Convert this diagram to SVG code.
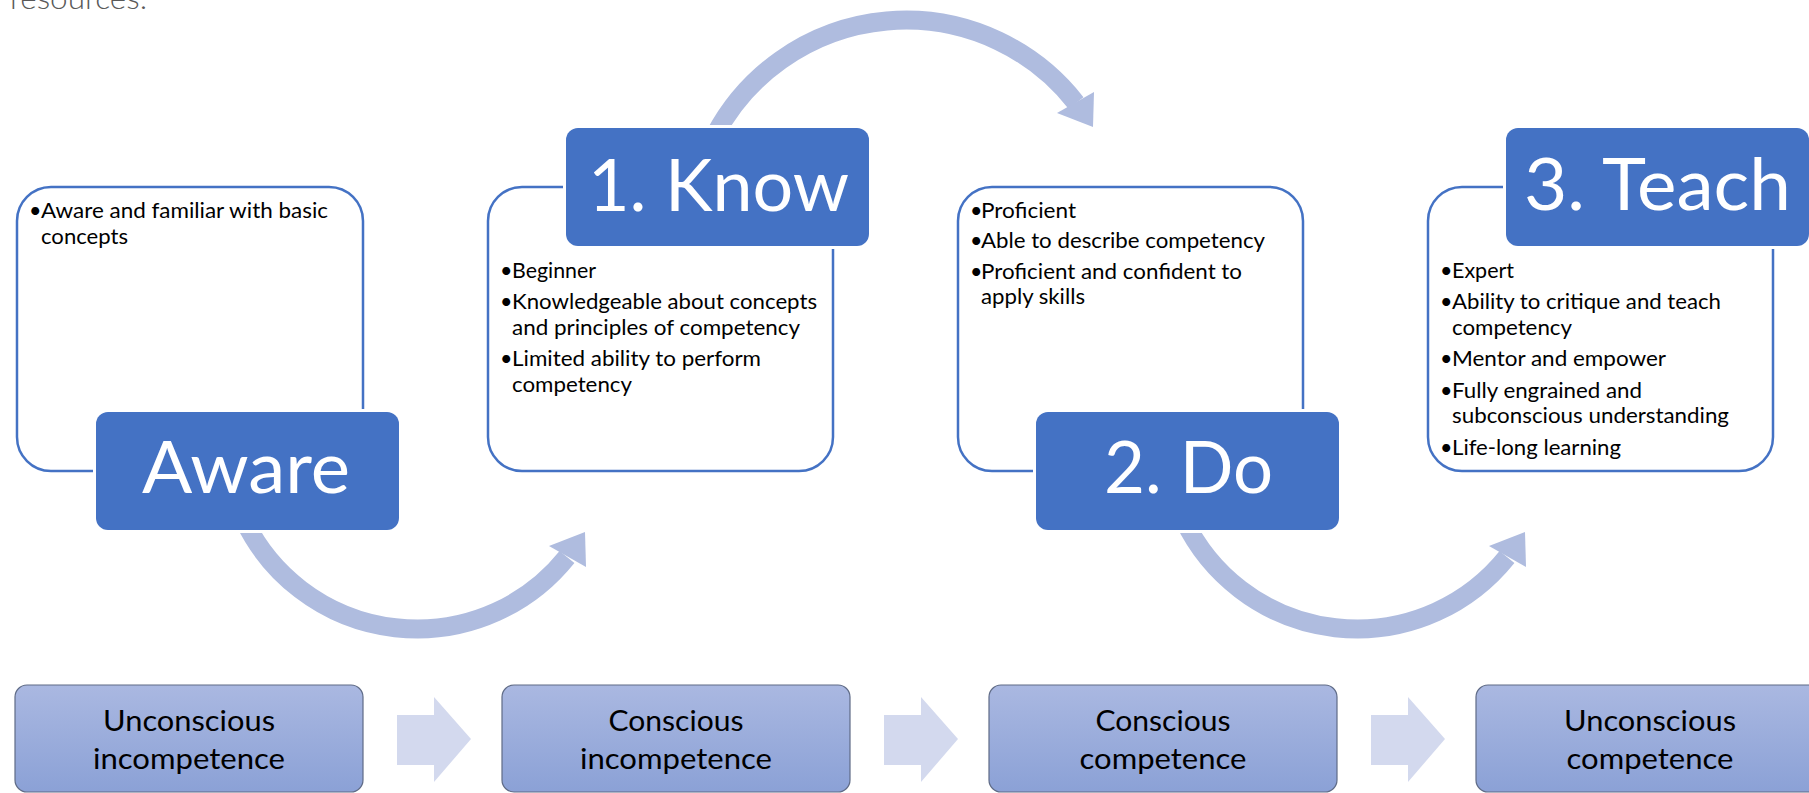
<svg xmlns="http://www.w3.org/2000/svg" width="1809" height="793" viewBox="0 0 1809 793">
<defs>
<style>
text{font-family:Lato,"Open Sans","Liberation Sans",sans-serif}
.tb{fill:#fff;stroke:#4472C4;stroke-width:2.5}
.halo{fill:#fff}
.bb{fill:#4472C4}
.lbl{font-size:71px;fill:#fff}
.bt{font-size:21.5px;fill:#000}
.arc{fill:none;stroke:#AFBCDF;stroke-width:19}
.head{fill:#AFBCDF}
.sb{fill:url(#sg);stroke:#5F6B86;stroke-width:1.2}
.st{font-size:29.7px;fill:#000}
.ba{fill:#D3D9EE}
.top{font-size:29.3px;font-weight:300;fill:#595959}
</style>
<linearGradient id="sg" x1="0" y1="0" x2="0" y2="1">
<stop offset="0" stop-color="#AAB8E1"/>
<stop offset="1" stop-color="#8BA1D6"/>
</linearGradient>
</defs>
<rect width="1809" height="793" fill="#fff"/>
<text class="top" x="10" y="9" textLength="137" lengthAdjust="spacingAndGlyphs">resources.</text>

<g id="connectors">
<path class="arc" d="M 244 520 A 192 192 0 0 0 567 557"/>
<polygon class="head" points="585,532 549,546 586,567"/>
<path class="arc" d="M 715 135 A 216 216 0 0 1 1076 103"/>
<polygon class="head" points="1093,127 1057,113 1094,92"/>
<path class="arc" d="M 1184 520 A 192 192 0 0 0 1507 557"/>
<polygon class="head" points="1525,532 1489,546 1526,567"/>
<polygon class="ba" points="397,715 434,715 434,697 471,739 434,782 434,765 397,765"/>
<polygon class="ba" points="884,715 921,715 921,697 958,739 921,782 921,765 884,765"/>
<polygon class="ba" points="1371,715 1408,715 1408,697 1445,739 1408,782 1408,765 1371,765"/>
</g>

<g id="aware">
<rect class="tb" x="17" y="187" width="346" height="284" rx="34"/>
<text class="bt" x="29" y="218">•</text>
<text class="bt" x="41" y="218" textLength="287" lengthAdjust="spacingAndGlyphs">Aware and familiar with basic</text>
<text class="bt" x="41" y="244" textLength="87" lengthAdjust="spacingAndGlyphs">concepts</text>
<rect class="halo" x="93" y="409" width="309" height="124" rx="15"/>
<rect class="bb" x="96" y="412" width="303" height="118" rx="12"/>
<text class="lbl" x="142" y="493" textLength="208" lengthAdjust="spacingAndGlyphs">Aware</text>
</g>

<g id="know">
<rect class="tb" x="488" y="187" width="345" height="284" rx="34"/>
<text class="bt" x="500" y="278">•</text>
<text class="bt" x="512" y="278" textLength="84" lengthAdjust="spacingAndGlyphs">Beginner</text>
<text class="bt" x="500" y="309">•</text>
<text class="bt" x="512" y="309" textLength="305" lengthAdjust="spacingAndGlyphs">Knowledgeable about concepts</text>
<text class="bt" x="512" y="335" textLength="288" lengthAdjust="spacingAndGlyphs">and principles of competency</text>
<text class="bt" x="500" y="366">•</text>
<text class="bt" x="512" y="366" textLength="249" lengthAdjust="spacingAndGlyphs">Limited ability to perform</text>
<text class="bt" x="512" y="392" textLength="120" lengthAdjust="spacingAndGlyphs">competency</text>
<rect class="halo" x="563" y="125" width="309" height="124" rx="15"/>
<rect class="bb" x="566" y="128" width="303" height="118" rx="12"/>
<text class="lbl" x="588" y="211" textLength="261" lengthAdjust="spacingAndGlyphs">1. Know</text>
</g>

<g id="do">
<rect class="tb" x="958" y="187" width="345" height="284" rx="34"/>
<text class="bt" x="970" y="218">•</text>
<text class="bt" x="981" y="218" textLength="95" lengthAdjust="spacingAndGlyphs">Proficient</text>
<text class="bt" x="970" y="248">•</text>
<text class="bt" x="981" y="248" textLength="284" lengthAdjust="spacingAndGlyphs">Able to describe competency</text>
<text class="bt" x="970" y="279">•</text>
<text class="bt" x="981" y="279" textLength="261" lengthAdjust="spacingAndGlyphs">Proficient and confident to</text>
<text class="bt" x="981" y="304" textLength="104" lengthAdjust="spacingAndGlyphs">apply skills</text>
<rect class="halo" x="1033" y="409" width="309" height="124" rx="15"/>
<rect class="bb" x="1036" y="412" width="303" height="118" rx="12"/>
<text class="lbl" x="1104" y="493" textLength="169" lengthAdjust="spacingAndGlyphs">2. Do</text>
</g>

<g id="teach">
<rect class="tb" x="1428" y="187" width="345" height="284" rx="34"/>
<text class="bt" x="1440" y="278">•</text>
<text class="bt" x="1452" y="278" textLength="62" lengthAdjust="spacingAndGlyphs">Expert</text>
<text class="bt" x="1440" y="309">•</text>
<text class="bt" x="1452" y="309" textLength="269" lengthAdjust="spacingAndGlyphs">Ability to critique and teach</text>
<text class="bt" x="1452" y="335" textLength="120" lengthAdjust="spacingAndGlyphs">competency</text>
<text class="bt" x="1440" y="366">•</text>
<text class="bt" x="1452" y="366" textLength="214" lengthAdjust="spacingAndGlyphs">Mentor and empower</text>
<text class="bt" x="1440" y="398">•</text>
<text class="bt" x="1452" y="398" textLength="190" lengthAdjust="spacingAndGlyphs">Fully engrained and</text>
<text class="bt" x="1452" y="423" textLength="277" lengthAdjust="spacingAndGlyphs">subconscious understanding</text>
<text class="bt" x="1440" y="455">•</text>
<text class="bt" x="1452" y="455" textLength="169" lengthAdjust="spacingAndGlyphs">Life-long learning</text>
<rect class="halo" x="1503" y="125" width="309" height="124" rx="15"/>
<rect class="bb" x="1506" y="128" width="303" height="118" rx="12"/>
<text class="lbl" x="1524" y="210" textLength="267" lengthAdjust="spacingAndGlyphs">3. Teach</text>
</g>

<g id="stage1">
<rect class="sb" x="15" y="685" width="348" height="107" rx="12"/>
<text class="st" x="189" y="731" text-anchor="middle" textLength="172" lengthAdjust="spacingAndGlyphs">Unconscious</text>
<text class="st" x="189" y="769" text-anchor="middle" textLength="192" lengthAdjust="spacingAndGlyphs">incompetence</text>
</g>
<g id="stage2">
<rect class="sb" x="502" y="685" width="348" height="107" rx="12"/>
<text class="st" x="676" y="731" text-anchor="middle" textLength="135" lengthAdjust="spacingAndGlyphs">Conscious</text>
<text class="st" x="676" y="769" text-anchor="middle" textLength="192" lengthAdjust="spacingAndGlyphs">incompetence</text>
</g>
<g id="stage3">
<rect class="sb" x="989" y="685" width="348" height="107" rx="12"/>
<text class="st" x="1163" y="731" text-anchor="middle" textLength="135" lengthAdjust="spacingAndGlyphs">Conscious</text>
<text class="st" x="1163" y="769" text-anchor="middle" textLength="167" lengthAdjust="spacingAndGlyphs">competence</text>
</g>
<g id="stage4">
<rect class="sb" x="1476" y="685" width="348" height="107" rx="12"/>
<text class="st" x="1650" y="731" text-anchor="middle" textLength="172" lengthAdjust="spacingAndGlyphs">Unconscious</text>
<text class="st" x="1650" y="769" text-anchor="middle" textLength="167" lengthAdjust="spacingAndGlyphs">competence</text>
</g>
</svg>
